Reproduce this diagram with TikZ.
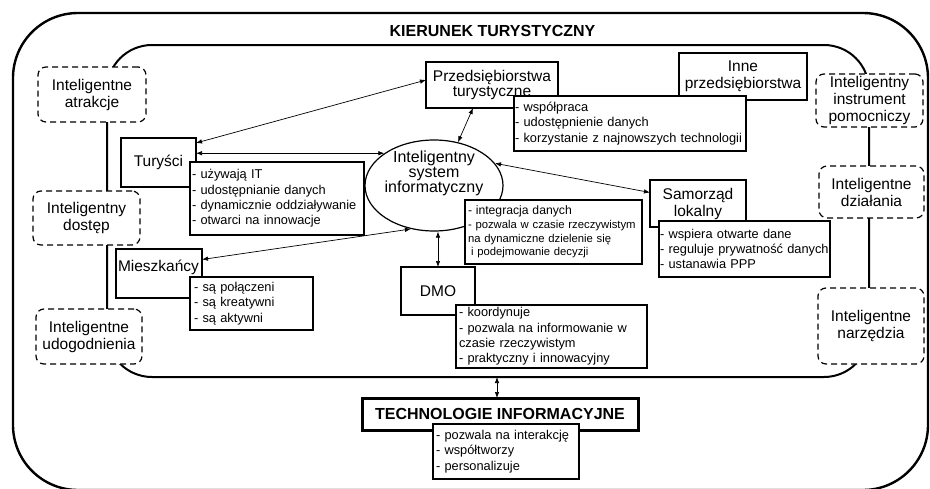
\documentclass[tikz,border=0pt]{standalone}
\usepackage{fontspec}
\setmainfont{Liberation Sans}
\usetikzlibrary{shapes.geometric,arrows.meta}
\newcommand\fsMain{\fontsize{15.5}{17}\selectfont}
\newcommand\fsTight{\fontsize{15.5}{15.5}\selectfont}
\newcommand\fsEll{\fontsize{16}{15}\selectfont}
\newcommand\fsList{\fontsize{12.8}{15.4}\selectfont}
\newcommand\fsIsiA{\fontsize{12.2}{14}\selectfont}
\newcommand\fsSmall{\fontsize{11.3}{13.8}\selectfont}
\newcommand\fsTitle{\fontsize{16}{18}\selectfont\bfseries}
\newcommand\oneline[1]{\mbox{#1}}
\tikzset{
  frame/.style={draw, rounded corners=#1, inner sep=0pt, outer sep=0pt},
  box/.style={draw, fill=white, line width=1.2pt, inner sep=0pt, outer sep=0pt, align=center, font=\fsMain},
  dbox/.style={draw, fill=white, line width=1.2pt, dash pattern=on 6pt off 4pt, rounded corners=8pt, inner sep=0pt, outer sep=0pt, align=center, font=\fsMain},
  list/.style={draw, fill=white, line width=1.1pt, inner ysep=0pt, outer sep=0pt, align=left, anchor=north west, font=\fsList},
  arr/.style={{Latex[length=6pt,width=4.5pt]}-{Latex[length=6pt,width=4.5pt]}, line width=0.7pt},
  link/.style={line width=2pt}
}
\begin{document}
\begin{tikzpicture}[x=1pt,y=-1pt]
\useasboundingbox (0,0) rectangle (930,488);
% frames
\node[frame=45pt, line width=2pt, minimum width=762pt, minimum height=332pt] (inner) at (488,211) {};
% dashed boxes
\node[dbox, minimum width=108pt, minimum height=55pt] (atr) at (92,94.5) {Inteligentne\\atrakcje};
\node[dbox, minimum width=107pt, minimum height=54pt] (dost) at (86.5,218) {Inteligentny\\dostęp};
\node[dbox, minimum width=106pt, minimum height=55pt] (udog) at (89,336.5) {Inteligentne\\udogodnienia};
\node[dbox, minimum width=107pt, minimum height=53pt] (instr) at (869.5,100.5) {Inteligentny\\instrument\\pomocniczy};
\node[dbox, minimum width=105pt, minimum height=52pt] (dzial) at (871.5,192) {Inteligentne\\działania};
\node[dbox, minimum width=106pt, minimum height=76pt] (narz) at (871,326) {Inteligentne\\narzędzia};
\node[frame=65pt, line width=2.4pt, minimum width=915pt, minimum height=477pt] (outer) at (470.5,251.5) {};
\draw[link] (atr.south -| inner.west) -- (dost.north -| inner.west);
\draw[link] (dost.south -| inner.west) -- (udog.north -| inner.west);
\draw[link] (instr.south -| inner.east) -- (dzial.north -| inner.east);
\draw[link] (dzial.south -| inner.east) -- (narz.north -| inner.east);
% title
\node[font=\fsTitle] (title) at (492.5,31) {KIERUNEK TURYSTYCZNY};
% main boxes
\node[box, font=\fsTight, minimum width=132pt, minimum height=46pt] (przed) at (492,85) {Przedsiębiorstwa\\turystyczne};
\node[box, minimum width=128pt, minimum height=47pt] (inne) at (743,76.5) {Inne\\przedsiębiorstwa};
\node[box, minimum width=75pt, minimum height=49pt] (tur) at (158.5,162.5) {Turyści};
\node[box, minimum width=96pt, minimum height=47pt] (sam) at (698,203.5) {Samorząd\\lokalny};
\node[box, minimum width=86pt, minimum height=49pt] (miesz) at (159,273.5) {};
\node[font=\fsMain, inner sep=0pt] (mieszt) at (158.5,267) {Mieszkańcy};
\node[box, minimum width=74pt, minimum height=48pt] (dmo) at (438,291) {DMO};
\node[draw, ellipse, line width=1.2pt, fill=white, minimum width=138pt, minimum height=91pt, inner sep=0pt] (isi) at (434,185.5) {};
\node[font=\fsEll, align=center, inner sep=0pt] (isit) at (434,173) {Inteligentny\\system\\informatyczny};
\node[box, line width=3pt, font=\fsTitle, minimum width=276pt, minimum height=32pt] (ti) at (500,414) {TECHNOLOGIE INFORMACYJNE};
% lists
\node[list, inner xsep=1pt, minimum width=232pt, text width=230pt, minimum height=55pt] (przedl) at (514,96) {\oneline{- współpraca}\\\oneline{- udostępnienie danych}\\\oneline{- korzystanie z najnowszych technologii}};
\node[list, inner xsep=2pt, minimum width=174pt, text width=170pt, minimum height=73pt] (turl) at (190,162) {\oneline{- używają IT}\\\oneline{- udostępnianie danych}\\\oneline{- dynamicznie oddziaływanie}\\\oneline{- otwarci na innowacje}};
\node[list, inner xsep=3pt, minimum width=177pt, text width=171pt, minimum height=64pt, font=\fsSmall] (isil) at (465,200) {\oneline{\fsIsiA - integracja danych}\\\oneline{- pozwala w czasie rzeczywistym}\\\oneline{na dynamiczne dzielenie się}\\\oneline{\hspace*{3pt}i podejmowanie decyzji}};
\node[list, inner xsep=1pt, minimum width=171pt, text width=169pt, minimum height=56pt] (saml) at (659,221) {\oneline{- wspiera otwarte dane}\\\oneline{- reguluje prywatność danych}\\\oneline{- ustanawia PPP}};
\node[list, inner xsep=4pt, minimum width=123pt, text width=115pt, minimum height=53pt] (miesl) at (190,277) {\oneline{- są połączeni}\\\oneline{- są kreatywni}\\\oneline{- są aktywni}};
\node[list, inner xsep=3pt, minimum width=191pt, text width=185pt, minimum height=63pt] (dmol) at (456,305) {\oneline{- koordynuje}\\\oneline{- pozwala na informowanie w}\\\oneline{czasie rzeczywistym}\\\oneline{- praktyczny i innowacyjny}};
\node[list, inner xsep=3pt, minimum width=146pt, text width=140pt, minimum height=55pt] (til) at (433,424) {\oneline{- pozwala na interakcję}\\\oneline{- współtworzy}\\\oneline{- personalizuje}};
% arrows
\draw[arr] ([yshift=5pt]przed.west) -- ([yshift=-5pt]tur.north east);
\draw[arr] (tur.east |- isi.147) -- (isi.147);
\draw[arr] ([xshift=-19pt]przed.south) -- (isi.61);
\draw[arr] (isi.20) -- ([yshift=11pt]sam.west);
\draw[arr] (isi.242) -- ([yshift=14pt]miesz.east);
\draw[arr] (dmo.north) -- (dmo.north |- isi.south);
\draw[arr] ([xshift=-3pt]ti.north) -- ([xshift=-3pt]ti.north |- inner.south);
\end{tikzpicture}
\end{document}
